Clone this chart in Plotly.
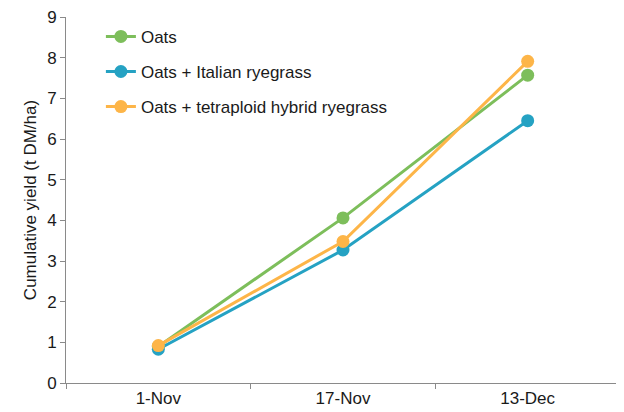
import plotly.graph_objects as go

dates = ["1-Nov", "17-Nov", "13-Dec"]
oats = [0.90, 4.06, 7.57]
oats_italian = [0.83, 3.27, 6.45]
oats_tetraploid = [0.92, 3.48, 7.91]

series = [
    ("Oats", oats, "#7DBE5B"),
    ("Oats + Italian ryegrass", oats_italian, "#25A2C3"),
    ("Oats + tetraploid hybrid ryegrass", oats_tetraploid, "#FDB548"),
]

fig = go.Figure()
for name, vals, col in series:
    fig.add_trace(go.Scatter(
        x=dates, y=vals, name=name, mode="lines+markers",
        line=dict(color=col, width=3),
        marker=dict(color=col, size=13),
        legendgroup=name,
    ))

axis_col = "#8a8a8a"
txt = "#1a1a1a"
fig.update_layout(
    width=616, height=404,
    margin=dict(l=58, r=4, t=9, b=29, autoexpand=False),
    paper_bgcolor="white", plot_bgcolor="white",
    font=dict(family="Liberation Sans, Arial, sans-serif", size=17, color=txt),
    showlegend=True,
    legend=dict(x=0.063, y=0.995, xanchor="left", yanchor="top",
                bgcolor="rgba(0,0,0,0)", tracegroupgap=10,
                font=dict(size=17, color=txt)),
    xaxis=dict(
        type="category", range=[-0.5, 2.5], automargin=False,
        showline=True, linecolor=axis_col, linewidth=1,
        ticks="outside", tickson="boundaries", ticklen=5, tickcolor=axis_col,
        showgrid=False, zeroline=False,
        tickfont=dict(size=17, color=txt),
        ticklabeloverflow="allow",
    ),
    yaxis=dict(
        range=[0, 9], dtick=1, automargin=False,
        showline=True, linecolor=axis_col, linewidth=1,
        ticks="outside", ticklen=5, tickcolor=axis_col,
        showgrid=False, zeroline=False,
        tickfont=dict(size=17, color=txt),
        ticklabeloverflow="allow",
        title=dict(text="Cumulative yield (t DM/ha)", font=dict(size=17, color=txt), standoff=6),
    ),
)

fig.write_html("out.html")
